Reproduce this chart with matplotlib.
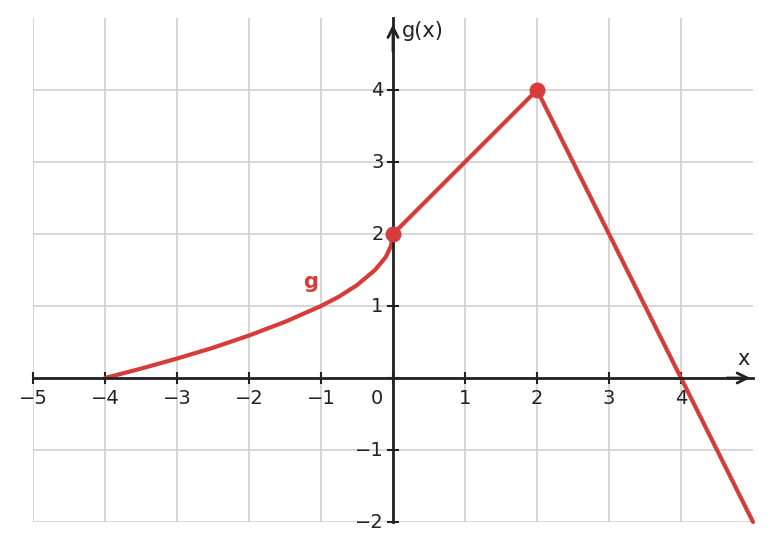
import matplotlib
matplotlib.use("Agg")
import matplotlib.pyplot as plt

curve_x = [-4, -3.5, -3, -2.5, -2, -1.5, -1, -0.75, -0.5, -0.25, -0.1, -0.03, 0]
curve_y = [0, 0.13, 0.27, 0.42, 0.59, 0.78, 1.0, 1.13, 1.29, 1.5, 1.68, 1.83, 2]
line_x = [0, 2, 5]
line_y = [2, 4, -2]
dot_x = [0, 2]
dot_y = [2, 4]
xticks = [-5, -4, -3, -2, -1, 1, 2, 3, 4]
yticks = [-2, -1, 1, 2, 3, 4]
red = "#d63c3a"
dark = "#222222"

fig = plt.figure(figsize=(7.71, 5.5), dpi=100)
ax = fig.add_axes([33/771, 28/550, 720/771, 504/550])
ax.set_xlim(-5, 5)
ax.set_ylim(-2, 5)
ax.set_xticks(range(-5, 5))
ax.set_yticks(range(-2, 5))
ax.grid(True, color="#d0d0d0", lw=1.2)
ax.set_axisbelow(True)
for s in ["top", "right"]:
    ax.spines[s].set_visible(False)
ax.spines["left"].set_position(("data", 0))
ax.spines["bottom"].set_position(("data", 0))
for s in ["left", "bottom"]:
    ax.spines[s].set_color(dark)
    ax.spines[s].set_linewidth(2)
ax.tick_params(direction="inout", length=8, width=1.5, colors=dark, labelsize=14)
ax.set_xticklabels([])
ax.set_yticklabels([])
for t in xticks:
    ax.text(t, -0.15, str(t).replace("-", "−"), ha="center", va="top", fontsize=14, color=dark)
for t in yticks:
    ax.text(-0.13, t, str(t).replace("-", "−"), ha="right", va="center", fontsize=14, color=dark)
ax.text(-0.23, -0.15, "0", ha="center", va="top", fontsize=14, color=dark)
ax.annotate("", xy=(5.0, 0), xytext=(4.6, 0),
            arrowprops=dict(arrowstyle="->", color=dark, lw=2, mutation_scale=18), annotation_clip=False)
ax.annotate("", xy=(0, 4.95), xytext=(0, 4.5),
            arrowprops=dict(arrowstyle="->", color=dark, lw=2, mutation_scale=18), annotation_clip=False)
ax.text(4.87, 0.12, "x", ha="center", va="bottom", fontsize=15, color=dark)
ax.text(0.12, 4.82, "g(x)", ha="left", va="center", fontsize=15, color=dark)
ax.text(-1.15, 1.34, "g", ha="center", va="center", fontsize=15, color=red, fontweight="bold")

ax.plot(curve_x, curve_y, color=red, lw=3, solid_capstyle="round", clip_on=False)
ax.plot(line_x, line_y, color=red, lw=3, solid_capstyle="round", clip_on=False)
ax.scatter(dot_x, dot_y, s=110, color=red, zorder=5, clip_on=False)

fig.savefig("out.png", dpi=100)
